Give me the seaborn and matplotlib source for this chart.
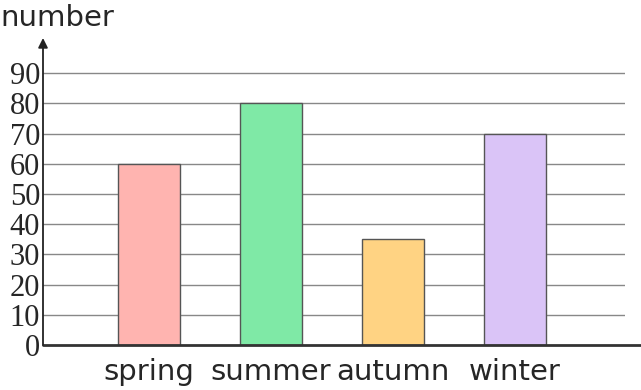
import matplotlib
matplotlib.use("Agg")
import matplotlib.pyplot as plt
import seaborn as sns
import pandas as pd

seasons = ["spring", "summer", "autumn", "winter"]
numbers = [60, 80, 35, 70]
colors = ["#FFB4B0", "#7FE9A6", "#FFD383", "#DAC4F7"]
yticks = [0, 10, 20, 30, 40, 50, 60, 70, 80, 90]

sns.set_style("white")
df = pd.DataFrame({"season": seasons, "number": numbers})

fig = plt.figure(figsize=(6.41, 3.90), dpi=100)
ax = fig.add_axes([43/641, 1 - 345/390, (625 - 43)/641, (345 - 40)/390])

sns.barplot(data=df, x="season", y="number", hue="season", palette=colors,
            legend=False, width=0.51, edgecolor="#555555", linewidth=1.0,
            saturation=1, ax=ax, zorder=3)

ax.set_ylim(0, (345 - 40) / 30.2 * 10)
ax.set_xlim(-0.87, 3.9)
ax.set_yticks(yticks)
ax.set_yticklabels([str(t) for t in yticks], family="Liberation Serif", fontsize=22)
ax.tick_params(axis="y", length=0, pad=2)
ax.tick_params(axis="x", length=0, pad=9)
ax.set_xticks(range(len(seasons)))
ax.set_xticklabels(seasons, family="DejaVu Sans", fontsize=21)
ax.set_xlabel("")
ax.set_ylabel("")

for t in yticks[1:]:
    ax.axhline(t, color="#888888", linewidth=1.0, zorder=1)

for s in ["top", "right", "left", "bottom"]:
    ax.spines[s].set_visible(False)

# baseline
ax.plot([-0.87, 4.05], [0, 0], color="#333333", linewidth=2.0, clip_on=False, zorder=4)
# y axis arrow
ax.annotate("", xy=(-0.87, (345 - 38) / 30.2 * 10), xytext=(-0.87, 0),
            arrowprops=dict(arrowstyle="-|>", color="#222222", lw=1.3,
                            mutation_scale=14, shrinkA=0, shrinkB=0),
            annotation_clip=False, zorder=5)

fig.text(0/641, 1 - 18/390, "number", family="DejaVu Sans", fontsize=21,
         va="center", ha="left")

fig.savefig("out.png", dpi=100)
